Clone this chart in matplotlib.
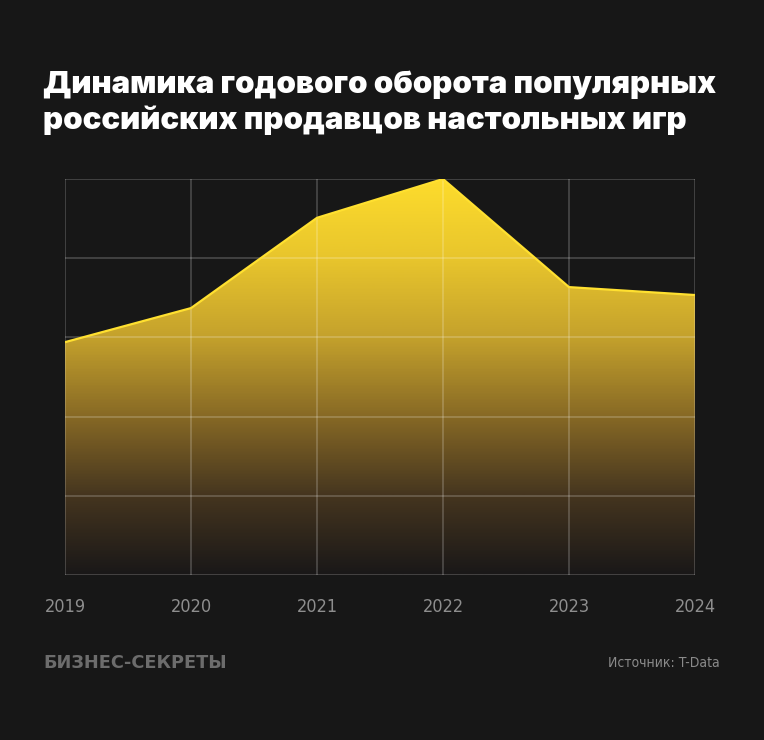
import numpy as np
import matplotlib.pyplot as plt
from matplotlib.colors import LinearSegmentedColormap
from matplotlib.patches import Polygon

# ---------------------------------------------------------------
# Data (max value = 100)
# ---------------------------------------------------------------
years = ["2019", "2020", "2021", "2022", "2023", "2024"]
turnover = [58.8, 67.4, 90.2, 100.0, 72.7, 70.7]

title_lines = ["Динамика годового оборота популярных",
               "российских продавцов настольных игр"]
brand = "БИЗНЕС-СЕКРЕТЫ"
source = "Источник: T-Data"

BG = "#171717"
W, H = 764, 740

fig = plt.figure(figsize=(W / 100, H / 100), dpi=100, facecolor=BG)

def px(x, y):
    # pixel coords (top-left origin) -> figure fraction
    return x / W, 1 - y / H

# plot area in pixels: x 65..695, y 179..575
ax = fig.add_axes([65 / W, 1 - 575 / H, 630 / W, 396 / H])
ax.set_facecolor(BG)

x = np.arange(len(years))
y = np.array(turnover)
ax.set_xlim(0, len(years) - 1)
ax.set_ylim(0, 100)

# gradient fill clipped to the area under the line
cmap = LinearSegmentedColormap.from_list("gold", [
    (0.00, "#1a1818"),
    (0.20, "#45351f"),
    (0.40, "#876925"),
    (0.60, "#c4a12c"),
    (0.80, "#e8c52c"),
    (1.00, "#fddc2c"),
])
grad = np.linspace(0, 1, 400).reshape(-1, 1)
img = ax.imshow(grad, cmap=cmap, origin="lower", aspect="auto",
                extent=[0, len(years) - 1, 0, 100], zorder=1)
verts = [(x[0], 0)] + list(zip(x, y)) + [(x[-1], 0)]
clip = Polygon(verts, closed=True, transform=ax.transData, facecolor="none",
               edgecolor="none")
ax.add_patch(clip)
img.set_clip_path(clip)

ax.plot(x, y, color="#ffe030", lw=1.6, zorder=3, solid_joinstyle="miter")

# grid
for gy in np.linspace(0, 100, 6):
    ax.axhline(gy, color="white", alpha=0.2, lw=1.3, zorder=2)
for gx in x:
    ax.axvline(gx, color="white", alpha=0.2, lw=1.3, zorder=2)

ax.set_xticks([])
ax.set_yticks([])
for s in ax.spines.values():
    s.set_visible(False)

# year labels
for i, yr in enumerate(years):
    fig.text(*px(65 + i * 126, 607), yr, ha="center", va="center",
             color="#8e8e8e", fontsize=13, family="DejaVu Sans",
             fontstretch="condensed")

# title
for i, line in enumerate(title_lines):
    fig.text(*px(43, 94 + i * 35), line, ha="left", va="baseline",
             color="white", fontsize=22.4, fontweight="black", family="Inter")

# footer
fig.text(*px(43, 663), brand, ha="left", va="center", color="#6c6c6c",
         fontsize=12.8, fontweight="bold", family="DejaVu Sans")
fig.text(*px(720, 663), source, ha="right", va="center", color="#8a8a8a",
         fontsize=10, family="DejaVu Sans", fontstretch="condensed")

fig.savefig("out.png", dpi=100, facecolor=BG)
